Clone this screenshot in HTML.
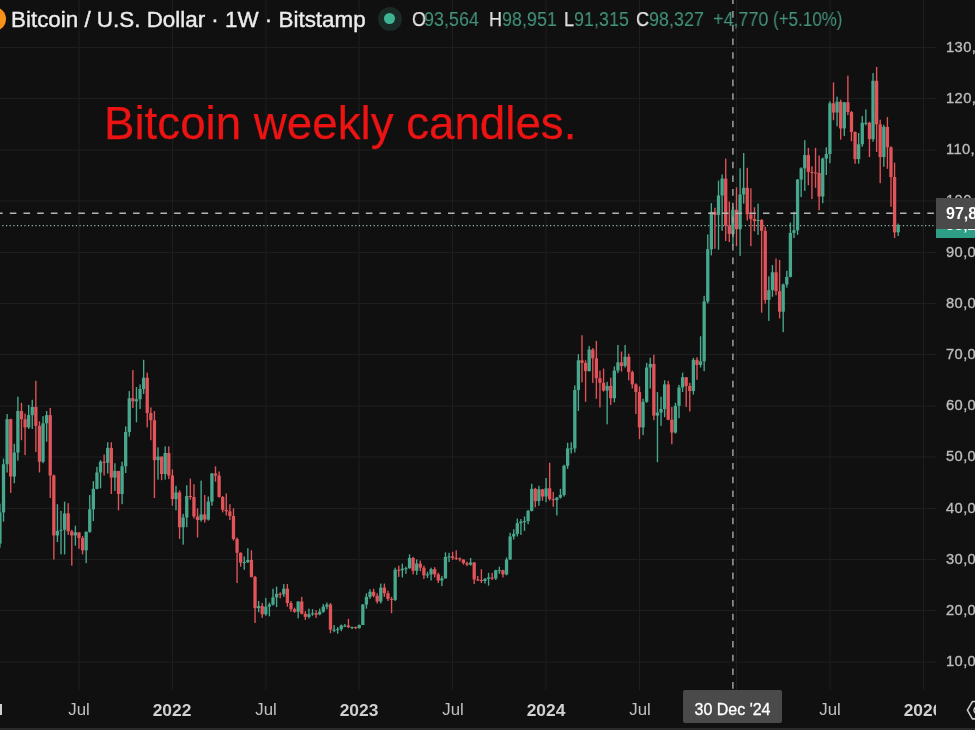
<!DOCTYPE html>
<html><head><meta charset="utf-8"><style>
*{margin:0;padding:0;box-sizing:border-box}
.pl,.tl,.oh,#title,#note,#ctl,#chl,#lpl{will-change:transform}
html,body{width:975px;height:730px;overflow:hidden;background:#101010;font-family:"Liberation Sans",sans-serif}
#root{position:relative;width:975px;height:730px;overflow:hidden}
.pl{position:absolute;left:946px;font-size:14.7px;letter-spacing:0.4px;color:#bcbcbc;line-height:18px;white-space:nowrap;-webkit-text-stroke:0.35px #bcbcbc}
#taxis{position:absolute;left:0;top:690px;width:936px;height:40px;overflow:hidden}
.tl{position:absolute;top:11px;width:80px;text-align:center;font-size:16.8px;color:#c0c0c0;line-height:18px}
.tl.b{font-weight:bold;color:#d0d0d0;font-size:17.4px}
#title{position:absolute;left:11px;top:7.5px;font-size:22.4px;color:#ececec;-webkit-text-stroke:0.4px #ececec;line-height:24px;white-space:nowrap}
#logo{position:absolute;left:-17.7px;top:7px;width:24px;height:24px;border-radius:50%;background:#f7931a}
#dot{position:absolute;left:377.5px;top:6.5px;width:24px;height:24px;border-radius:50%;background:#1a2b27}
#dot i{position:absolute;left:6.5px;top:6.5px;width:11px;height:11px;border-radius:50%;background:#3fb495}
.oh{position:absolute;top:8.1px;font-size:20px;line-height:22px;white-space:nowrap;transform:scaleX(0.898);transform-origin:0 0}
.oh.w{color:#e6e6e6;-webkit-text-stroke:0.25px #e6e6e6} .oh.g{color:#43947d}
#note{position:absolute;left:103.5px;top:98.5px;font-size:45.7px;color:#ec1313;-webkit-text-stroke:0.25px #ec1313;line-height:50px;white-space:nowrap}
#chl{position:absolute;left:936px;top:198px;width:60px;height:31px;background:#4a4a4a;color:#fff;font-weight:bold;font-size:16px;line-height:31px;padding-left:10px}
#lpl{position:absolute;left:936px;top:214px;width:60px;height:23.5px;background:#2f9e86;color:#fff;font-size:15.5px;line-height:18px;padding-top:1.5px;padding-left:10px;font-weight:bold}
#ctl{position:absolute;left:682.5px;top:690px;width:99px;height:33px;background:#4a4a4a;border-radius:2px;color:#fff;font-size:16px;line-height:33px;padding-top:3px;text-align:center;-webkit-text-stroke:0.3px #fff}
#bot{position:absolute;left:0;top:728px;width:975px;height:2px;background:#2a2a2a}
</style></head><body><div id="root">
<svg width="975" height="730" viewBox="0 0 975 730" style="position:absolute;left:0;top:0"><line x1="0" y1="662.0" x2="936" y2="662.0" stroke="#1e1e1e" stroke-width="1"/><line x1="0" y1="610.5" x2="936" y2="610.5" stroke="#1e1e1e" stroke-width="1"/><line x1="0" y1="559.5" x2="936" y2="559.5" stroke="#1e1e1e" stroke-width="1"/><line x1="0" y1="508.5" x2="936" y2="508.5" stroke="#1e1e1e" stroke-width="1"/><line x1="0" y1="457.0" x2="936" y2="457.0" stroke="#1e1e1e" stroke-width="1"/><line x1="0" y1="406.0" x2="936" y2="406.0" stroke="#1e1e1e" stroke-width="1"/><line x1="0" y1="354.5" x2="936" y2="354.5" stroke="#1e1e1e" stroke-width="1"/><line x1="0" y1="303.5" x2="936" y2="303.5" stroke="#1e1e1e" stroke-width="1"/><line x1="0" y1="252.5" x2="936" y2="252.5" stroke="#1e1e1e" stroke-width="1"/><line x1="0" y1="201.0" x2="936" y2="201.0" stroke="#1e1e1e" stroke-width="1"/><line x1="0" y1="150.0" x2="936" y2="150.0" stroke="#1e1e1e" stroke-width="1"/><line x1="0" y1="98.5" x2="936" y2="98.5" stroke="#1e1e1e" stroke-width="1"/><line x1="0" y1="47.5" x2="936" y2="47.5" stroke="#1e1e1e" stroke-width="1"/><line x1="79.0" y1="0" x2="79.0" y2="690" stroke="#1e1e1e" stroke-width="1"/><line x1="172.5" y1="0" x2="172.5" y2="690" stroke="#1e1e1e" stroke-width="1"/><line x1="266.0" y1="0" x2="266.0" y2="690" stroke="#1e1e1e" stroke-width="1"/><line x1="359.0" y1="0" x2="359.0" y2="690" stroke="#1e1e1e" stroke-width="1"/><line x1="452.5" y1="0" x2="452.5" y2="690" stroke="#1e1e1e" stroke-width="1"/><line x1="546.0" y1="0" x2="546.0" y2="690" stroke="#1e1e1e" stroke-width="1"/><line x1="639.5" y1="0" x2="639.5" y2="690" stroke="#1e1e1e" stroke-width="1"/><line x1="736.5" y1="0" x2="736.5" y2="690" stroke="#1e1e1e" stroke-width="1"/><line x1="830.0" y1="0" x2="830.0" y2="690" stroke="#1e1e1e" stroke-width="1"/><line x1="923.5" y1="0" x2="923.5" y2="690" stroke="#1e1e1e" stroke-width="1"/><line x1="0" y1="225.7" x2="936" y2="225.7" stroke="#8fbfb0" stroke-width="1.2" stroke-dasharray="1.2 2.476" stroke-dashoffset="1.376"/><rect x="-0.75" y="503.69" width="1.35" height="44.03" fill="#48a88e"/><rect x="-1.72" y="512.40" width="3.3" height="31.23" fill="#48a88e"/><rect x="2.85" y="458.64" width="1.35" height="62.98" fill="#48a88e"/><rect x="1.87" y="464.27" width="3.3" height="48.13" fill="#48a88e"/><rect x="6.44" y="414.09" width="1.35" height="58.37" fill="#48a88e"/><rect x="5.46" y="419.21" width="3.3" height="45.06" fill="#48a88e"/><rect x="10.03" y="418.70" width="1.35" height="74.24" fill="#e2545a"/><rect x="9.06" y="419.21" width="3.3" height="57.34" fill="#e2545a"/><rect x="13.62" y="443.79" width="1.35" height="39.42" fill="#48a88e"/><rect x="12.65" y="452.49" width="3.3" height="24.06" fill="#48a88e"/><rect x="17.22" y="396.68" width="1.35" height="64.00" fill="#48a88e"/><rect x="16.24" y="411.02" width="3.3" height="41.47" fill="#48a88e"/><rect x="20.81" y="402.83" width="1.35" height="37.38" fill="#e2545a"/><rect x="19.84" y="411.02" width="3.3" height="8.19" fill="#e2545a"/><rect x="24.40" y="413.58" width="1.35" height="41.47" fill="#e2545a"/><rect x="23.43" y="419.21" width="3.3" height="8.19" fill="#e2545a"/><rect x="28.00" y="404.88" width="1.35" height="24.06" fill="#48a88e"/><rect x="27.02" y="415.12" width="3.3" height="12.29" fill="#48a88e"/><rect x="31.59" y="399.76" width="1.35" height="29.18" fill="#48a88e"/><rect x="30.61" y="406.92" width="3.3" height="8.19" fill="#48a88e"/><rect x="35.18" y="380.81" width="1.35" height="71.17" fill="#e2545a"/><rect x="34.21" y="406.92" width="3.3" height="18.94" fill="#e2545a"/><rect x="38.78" y="421.26" width="1.35" height="51.20" fill="#e2545a"/><rect x="37.80" y="425.87" width="3.3" height="35.84" fill="#e2545a"/><rect x="42.37" y="416.14" width="1.35" height="47.10" fill="#48a88e"/><rect x="41.39" y="423.31" width="3.3" height="38.40" fill="#48a88e"/><rect x="45.96" y="411.02" width="1.35" height="30.72" fill="#48a88e"/><rect x="44.99" y="415.12" width="3.3" height="8.19" fill="#48a88e"/><rect x="49.56" y="407.95" width="1.35" height="90.11" fill="#e2545a"/><rect x="48.58" y="415.12" width="3.3" height="60.42" fill="#e2545a"/><rect x="53.15" y="474.51" width="1.35" height="84.99" fill="#e2545a"/><rect x="52.17" y="475.53" width="3.3" height="59.90" fill="#e2545a"/><rect x="56.74" y="504.20" width="1.35" height="37.89" fill="#48a88e"/><rect x="55.77" y="530.83" width="3.3" height="4.61" fill="#48a88e"/><rect x="60.33" y="510.86" width="1.35" height="43.52" fill="#48a88e"/><rect x="59.36" y="529.80" width="3.3" height="1.02" fill="#48a88e"/><rect x="63.93" y="501.64" width="1.35" height="52.74" fill="#48a88e"/><rect x="62.95" y="513.42" width="3.3" height="16.38" fill="#48a88e"/><rect x="67.52" y="503.18" width="1.35" height="31.74" fill="#e2545a"/><rect x="66.54" y="513.42" width="3.3" height="17.92" fill="#e2545a"/><rect x="71.11" y="529.80" width="1.35" height="35.84" fill="#e2545a"/><rect x="70.14" y="531.34" width="3.3" height="4.10" fill="#e2545a"/><rect x="74.71" y="525.71" width="1.35" height="19.97" fill="#48a88e"/><rect x="73.73" y="532.36" width="3.3" height="3.07" fill="#48a88e"/><rect x="78.30" y="532.36" width="1.35" height="16.38" fill="#e2545a"/><rect x="77.32" y="532.36" width="3.3" height="5.63" fill="#e2545a"/><rect x="81.89" y="535.95" width="1.35" height="18.43" fill="#e2545a"/><rect x="80.92" y="538.00" width="3.3" height="12.29" fill="#e2545a"/><rect x="85.48" y="531.34" width="1.35" height="31.74" fill="#48a88e"/><rect x="84.51" y="531.85" width="3.3" height="18.43" fill="#48a88e"/><rect x="89.08" y="494.99" width="1.35" height="37.89" fill="#48a88e"/><rect x="88.10" y="509.32" width="3.3" height="22.53" fill="#48a88e"/><rect x="92.67" y="481.16" width="1.35" height="39.94" fill="#48a88e"/><rect x="91.70" y="488.84" width="3.3" height="20.48" fill="#48a88e"/><rect x="96.26" y="466.83" width="1.35" height="22.53" fill="#48a88e"/><rect x="95.29" y="472.46" width="3.3" height="16.38" fill="#48a88e"/><rect x="99.86" y="460.17" width="1.35" height="28.16" fill="#48a88e"/><rect x="98.88" y="461.71" width="3.3" height="10.75" fill="#48a88e"/><rect x="103.45" y="454.54" width="1.35" height="20.99" fill="#e2545a"/><rect x="102.47" y="461.71" width="3.3" height="1.02" fill="#e2545a"/><rect x="107.04" y="442.25" width="1.35" height="31.23" fill="#48a88e"/><rect x="106.07" y="447.88" width="3.3" height="14.85" fill="#48a88e"/><rect x="110.64" y="442.25" width="1.35" height="51.71" fill="#e2545a"/><rect x="109.66" y="447.88" width="3.3" height="29.70" fill="#e2545a"/><rect x="114.23" y="463.24" width="1.35" height="27.65" fill="#48a88e"/><rect x="113.25" y="470.92" width="3.3" height="6.66" fill="#48a88e"/><rect x="117.82" y="470.92" width="1.35" height="39.42" fill="#e2545a"/><rect x="116.85" y="470.92" width="3.3" height="23.04" fill="#e2545a"/><rect x="121.42" y="461.71" width="1.35" height="42.50" fill="#48a88e"/><rect x="120.44" y="466.32" width="3.3" height="27.65" fill="#48a88e"/><rect x="125.01" y="426.38" width="1.35" height="46.59" fill="#48a88e"/><rect x="124.03" y="432.01" width="3.3" height="34.30" fill="#48a88e"/><rect x="128.60" y="391.05" width="1.35" height="45.57" fill="#48a88e"/><rect x="127.63" y="398.22" width="3.3" height="33.79" fill="#48a88e"/><rect x="132.19" y="370.06" width="1.35" height="37.89" fill="#e2545a"/><rect x="131.22" y="398.22" width="3.3" height="3.07" fill="#e2545a"/><rect x="135.79" y="386.96" width="1.35" height="35.33" fill="#48a88e"/><rect x="134.81" y="399.24" width="3.3" height="2.05" fill="#48a88e"/><rect x="139.38" y="384.40" width="1.35" height="24.58" fill="#48a88e"/><rect x="138.40" y="389.00" width="3.3" height="10.24" fill="#48a88e"/><rect x="142.97" y="359.82" width="1.35" height="34.30" fill="#48a88e"/><rect x="142.00" y="377.74" width="3.3" height="11.26" fill="#48a88e"/><rect x="146.57" y="372.62" width="1.35" height="54.78" fill="#e2545a"/><rect x="145.59" y="377.74" width="3.3" height="35.33" fill="#e2545a"/><rect x="150.16" y="407.44" width="1.35" height="32.77" fill="#e2545a"/><rect x="149.18" y="413.07" width="3.3" height="7.17" fill="#e2545a"/><rect x="153.75" y="411.02" width="1.35" height="87.04" fill="#e2545a"/><rect x="152.78" y="420.24" width="3.3" height="39.94" fill="#e2545a"/><rect x="157.34" y="447.37" width="1.35" height="32.26" fill="#48a88e"/><rect x="156.37" y="456.59" width="3.3" height="3.58" fill="#48a88e"/><rect x="160.94" y="456.59" width="1.35" height="23.55" fill="#e2545a"/><rect x="159.96" y="456.59" width="3.3" height="17.41" fill="#e2545a"/><rect x="164.53" y="446.35" width="1.35" height="33.28" fill="#48a88e"/><rect x="163.56" y="453.00" width="3.3" height="20.99" fill="#48a88e"/><rect x="168.12" y="446.35" width="1.35" height="32.77" fill="#e2545a"/><rect x="167.15" y="453.00" width="3.3" height="22.53" fill="#e2545a"/><rect x="171.72" y="469.39" width="1.35" height="36.35" fill="#e2545a"/><rect x="170.74" y="475.53" width="3.3" height="23.55" fill="#e2545a"/><rect x="175.31" y="485.77" width="1.35" height="24.58" fill="#48a88e"/><rect x="174.34" y="492.43" width="3.3" height="6.66" fill="#48a88e"/><rect x="178.90" y="490.38" width="1.35" height="48.64" fill="#e2545a"/><rect x="177.93" y="492.43" width="3.3" height="34.82" fill="#e2545a"/><rect x="182.50" y="513.93" width="1.35" height="30.72" fill="#48a88e"/><rect x="181.52" y="517.52" width="3.3" height="9.73" fill="#48a88e"/><rect x="186.09" y="485.26" width="1.35" height="41.98" fill="#48a88e"/><rect x="185.11" y="496.01" width="3.3" height="21.50" fill="#48a88e"/><rect x="189.68" y="478.60" width="1.35" height="20.99" fill="#e2545a"/><rect x="188.71" y="496.01" width="3.3" height="1.02" fill="#e2545a"/><rect x="193.27" y="484.24" width="1.35" height="34.30" fill="#e2545a"/><rect x="192.30" y="497.04" width="3.3" height="19.46" fill="#e2545a"/><rect x="196.87" y="508.30" width="1.35" height="29.18" fill="#e2545a"/><rect x="195.89" y="516.49" width="3.3" height="3.58" fill="#e2545a"/><rect x="200.46" y="480.65" width="1.35" height="40.96" fill="#48a88e"/><rect x="199.49" y="514.44" width="3.3" height="5.63" fill="#48a88e"/><rect x="204.05" y="494.99" width="1.35" height="27.65" fill="#e2545a"/><rect x="203.08" y="514.44" width="3.3" height="5.12" fill="#e2545a"/><rect x="207.65" y="496.52" width="1.35" height="24.06" fill="#48a88e"/><rect x="206.67" y="501.64" width="3.3" height="17.92" fill="#48a88e"/><rect x="211.24" y="472.97" width="1.35" height="32.77" fill="#48a88e"/><rect x="210.26" y="473.48" width="3.3" height="28.16" fill="#48a88e"/><rect x="214.83" y="466.32" width="1.35" height="15.36" fill="#e2545a"/><rect x="213.86" y="473.48" width="3.3" height="2.05" fill="#e2545a"/><rect x="218.43" y="471.44" width="1.35" height="26.11" fill="#e2545a"/><rect x="217.45" y="475.53" width="3.3" height="21.50" fill="#e2545a"/><rect x="222.02" y="496.01" width="1.35" height="16.38" fill="#e2545a"/><rect x="221.04" y="497.04" width="3.3" height="12.80" fill="#e2545a"/><rect x="225.61" y="493.45" width="1.35" height="22.02" fill="#e2545a"/><rect x="224.64" y="509.84" width="3.3" height="1.54" fill="#e2545a"/><rect x="229.20" y="504.20" width="1.35" height="15.87" fill="#e2545a"/><rect x="228.23" y="511.37" width="3.3" height="4.61" fill="#e2545a"/><rect x="232.80" y="508.30" width="1.35" height="32.26" fill="#e2545a"/><rect x="231.82" y="515.98" width="3.3" height="23.04" fill="#e2545a"/><rect x="236.39" y="537.48" width="1.35" height="45.57" fill="#e2545a"/><rect x="235.42" y="539.02" width="3.3" height="13.82" fill="#e2545a"/><rect x="239.98" y="552.33" width="1.35" height="14.34" fill="#e2545a"/><rect x="239.01" y="552.84" width="3.3" height="9.73" fill="#e2545a"/><rect x="243.58" y="556.43" width="1.35" height="13.31" fill="#48a88e"/><rect x="242.60" y="562.06" width="3.3" height="1.00" fill="#48a88e"/><rect x="247.17" y="548.24" width="1.35" height="14.85" fill="#48a88e"/><rect x="246.19" y="560.01" width="3.3" height="2.05" fill="#48a88e"/><rect x="250.76" y="550.28" width="1.35" height="27.14" fill="#e2545a"/><rect x="249.79" y="560.01" width="3.3" height="16.90" fill="#e2545a"/><rect x="254.36" y="575.88" width="1.35" height="47.10" fill="#e2545a"/><rect x="253.38" y="576.91" width="3.3" height="31.23" fill="#e2545a"/><rect x="257.95" y="600.97" width="1.35" height="11.26" fill="#48a88e"/><rect x="256.97" y="606.09" width="3.3" height="2.05" fill="#48a88e"/><rect x="261.54" y="603.02" width="1.35" height="14.85" fill="#e2545a"/><rect x="260.57" y="606.09" width="3.3" height="8.19" fill="#e2545a"/><rect x="265.13" y="597.90" width="1.35" height="17.92" fill="#48a88e"/><rect x="264.16" y="606.60" width="3.3" height="7.68" fill="#48a88e"/><rect x="268.73" y="602.51" width="1.35" height="13.82" fill="#48a88e"/><rect x="267.75" y="604.56" width="3.3" height="2.05" fill="#48a88e"/><rect x="272.32" y="588.68" width="1.35" height="16.90" fill="#48a88e"/><rect x="271.35" y="597.39" width="3.3" height="7.17" fill="#48a88e"/><rect x="275.91" y="586.64" width="1.35" height="20.48" fill="#48a88e"/><rect x="274.94" y="593.80" width="3.3" height="3.58" fill="#48a88e"/><rect x="279.51" y="592.27" width="1.35" height="6.14" fill="#e2545a"/><rect x="278.53" y="593.80" width="3.3" height="1.00" fill="#e2545a"/><rect x="283.10" y="584.08" width="1.35" height="12.80" fill="#48a88e"/><rect x="282.12" y="588.68" width="3.3" height="5.63" fill="#48a88e"/><rect x="286.69" y="584.08" width="1.35" height="22.53" fill="#e2545a"/><rect x="285.72" y="588.68" width="3.3" height="14.34" fill="#e2545a"/><rect x="290.29" y="600.97" width="1.35" height="10.75" fill="#e2545a"/><rect x="289.31" y="603.02" width="3.3" height="6.14" fill="#e2545a"/><rect x="293.88" y="607.63" width="1.35" height="5.12" fill="#e2545a"/><rect x="292.90" y="609.16" width="3.3" height="2.56" fill="#e2545a"/><rect x="297.47" y="601.48" width="1.35" height="16.90" fill="#48a88e"/><rect x="296.50" y="601.48" width="3.3" height="10.24" fill="#48a88e"/><rect x="301.06" y="596.88" width="1.35" height="17.41" fill="#e2545a"/><rect x="300.09" y="601.48" width="3.3" height="12.29" fill="#e2545a"/><rect x="304.66" y="611.21" width="1.35" height="8.70" fill="#e2545a"/><rect x="303.68" y="613.77" width="3.3" height="3.07" fill="#e2545a"/><rect x="308.25" y="608.65" width="1.35" height="9.73" fill="#48a88e"/><rect x="307.28" y="614.28" width="3.3" height="2.56" fill="#48a88e"/><rect x="311.84" y="609.16" width="1.35" height="6.66" fill="#48a88e"/><rect x="310.87" y="613.26" width="3.3" height="1.02" fill="#48a88e"/><rect x="315.44" y="610.19" width="1.35" height="7.68" fill="#e2545a"/><rect x="314.46" y="613.26" width="3.3" height="1.54" fill="#e2545a"/><rect x="319.03" y="608.65" width="1.35" height="6.66" fill="#48a88e"/><rect x="318.06" y="611.72" width="3.3" height="2.56" fill="#48a88e"/><rect x="322.62" y="604.04" width="1.35" height="8.70" fill="#48a88e"/><rect x="321.65" y="606.60" width="3.3" height="5.12" fill="#48a88e"/><rect x="326.22" y="602.51" width="1.35" height="6.66" fill="#48a88e"/><rect x="325.24" y="604.56" width="3.3" height="2.05" fill="#48a88e"/><rect x="329.81" y="603.02" width="1.35" height="30.21" fill="#e2545a"/><rect x="328.83" y="604.56" width="3.3" height="25.09" fill="#e2545a"/><rect x="333.40" y="625.04" width="1.35" height="7.17" fill="#48a88e"/><rect x="332.43" y="629.64" width="3.3" height="1.00" fill="#48a88e"/><rect x="336.99" y="627.08" width="1.35" height="6.66" fill="#48a88e"/><rect x="336.02" y="629.13" width="3.3" height="1.00" fill="#48a88e"/><rect x="340.59" y="624.52" width="1.35" height="6.66" fill="#48a88e"/><rect x="339.61" y="625.55" width="3.3" height="3.58" fill="#48a88e"/><rect x="344.18" y="624.01" width="1.35" height="3.07" fill="#48a88e"/><rect x="343.21" y="625.55" width="3.3" height="1.00" fill="#48a88e"/><rect x="347.77" y="618.89" width="1.35" height="9.22" fill="#e2545a"/><rect x="346.80" y="625.55" width="3.3" height="1.54" fill="#e2545a"/><rect x="351.37" y="626.57" width="1.35" height="2.56" fill="#48a88e"/><rect x="350.39" y="627.08" width="3.3" height="1.00" fill="#48a88e"/><rect x="354.96" y="626.57" width="1.35" height="2.56" fill="#e2545a"/><rect x="353.99" y="627.08" width="3.3" height="1.02" fill="#e2545a"/><rect x="358.55" y="624.52" width="1.35" height="4.10" fill="#48a88e"/><rect x="357.58" y="625.04" width="3.3" height="3.07" fill="#48a88e"/><rect x="362.15" y="604.04" width="1.35" height="20.99" fill="#48a88e"/><rect x="361.17" y="604.56" width="3.3" height="20.48" fill="#48a88e"/><rect x="365.74" y="593.29" width="1.35" height="15.36" fill="#48a88e"/><rect x="364.76" y="596.88" width="3.3" height="7.68" fill="#48a88e"/><rect x="369.33" y="589.20" width="1.35" height="9.73" fill="#48a88e"/><rect x="368.36" y="591.76" width="3.3" height="5.12" fill="#48a88e"/><rect x="372.92" y="588.68" width="1.35" height="8.70" fill="#e2545a"/><rect x="371.95" y="591.76" width="3.3" height="4.10" fill="#e2545a"/><rect x="376.52" y="593.29" width="1.35" height="10.24" fill="#e2545a"/><rect x="375.54" y="595.85" width="3.3" height="5.63" fill="#e2545a"/><rect x="380.11" y="583.56" width="1.35" height="19.97" fill="#48a88e"/><rect x="379.14" y="587.66" width="3.3" height="13.82" fill="#48a88e"/><rect x="383.70" y="583.56" width="1.35" height="13.31" fill="#e2545a"/><rect x="382.73" y="587.66" width="3.3" height="5.63" fill="#e2545a"/><rect x="387.30" y="590.73" width="1.35" height="10.24" fill="#e2545a"/><rect x="386.32" y="593.29" width="3.3" height="5.63" fill="#e2545a"/><rect x="390.89" y="596.88" width="1.35" height="16.38" fill="#e2545a"/><rect x="389.92" y="598.92" width="3.3" height="1.02" fill="#e2545a"/><rect x="394.48" y="567.69" width="1.35" height="33.28" fill="#48a88e"/><rect x="393.51" y="569.74" width="3.3" height="30.21" fill="#48a88e"/><rect x="398.08" y="565.64" width="1.35" height="11.26" fill="#e2545a"/><rect x="397.10" y="569.74" width="3.3" height="1.00" fill="#e2545a"/><rect x="401.67" y="563.60" width="1.35" height="13.82" fill="#48a88e"/><rect x="400.69" y="568.72" width="3.3" height="1.54" fill="#48a88e"/><rect x="405.26" y="566.67" width="1.35" height="7.17" fill="#48a88e"/><rect x="404.29" y="568.20" width="3.3" height="1.00" fill="#48a88e"/><rect x="408.85" y="554.38" width="1.35" height="14.34" fill="#48a88e"/><rect x="407.88" y="557.96" width="3.3" height="10.24" fill="#48a88e"/><rect x="412.45" y="556.94" width="1.35" height="17.41" fill="#e2545a"/><rect x="411.47" y="557.96" width="3.3" height="12.80" fill="#e2545a"/><rect x="416.04" y="559.50" width="1.35" height="15.36" fill="#48a88e"/><rect x="415.07" y="563.60" width="3.3" height="7.17" fill="#48a88e"/><rect x="419.63" y="560.52" width="1.35" height="10.75" fill="#e2545a"/><rect x="418.66" y="563.60" width="3.3" height="4.10" fill="#e2545a"/><rect x="423.23" y="565.64" width="1.35" height="13.31" fill="#e2545a"/><rect x="422.25" y="567.69" width="3.3" height="7.68" fill="#e2545a"/><rect x="426.82" y="571.79" width="1.35" height="6.14" fill="#48a88e"/><rect x="425.85" y="574.35" width="3.3" height="1.02" fill="#48a88e"/><rect x="430.41" y="567.69" width="1.35" height="12.80" fill="#48a88e"/><rect x="429.44" y="569.23" width="3.3" height="5.12" fill="#48a88e"/><rect x="434.01" y="567.18" width="1.35" height="10.24" fill="#e2545a"/><rect x="433.03" y="569.23" width="3.3" height="5.12" fill="#e2545a"/><rect x="437.60" y="572.81" width="1.35" height="10.24" fill="#e2545a"/><rect x="436.62" y="574.35" width="3.3" height="6.14" fill="#e2545a"/><rect x="441.19" y="575.88" width="1.35" height="10.24" fill="#48a88e"/><rect x="440.22" y="578.44" width="3.3" height="2.05" fill="#48a88e"/><rect x="444.78" y="552.33" width="1.35" height="26.11" fill="#48a88e"/><rect x="443.81" y="556.94" width="3.3" height="21.50" fill="#48a88e"/><rect x="448.38" y="552.84" width="1.35" height="9.22" fill="#48a88e"/><rect x="447.40" y="556.43" width="3.3" height="1.00" fill="#48a88e"/><rect x="451.97" y="551.82" width="1.35" height="8.19" fill="#e2545a"/><rect x="451.00" y="556.43" width="3.3" height="1.54" fill="#e2545a"/><rect x="455.56" y="550.28" width="1.35" height="9.73" fill="#e2545a"/><rect x="454.59" y="557.96" width="3.3" height="1.00" fill="#e2545a"/><rect x="459.16" y="557.45" width="1.35" height="4.10" fill="#e2545a"/><rect x="458.18" y="558.48" width="3.3" height="1.02" fill="#e2545a"/><rect x="462.75" y="559.50" width="1.35" height="5.12" fill="#e2545a"/><rect x="461.77" y="559.50" width="3.3" height="3.58" fill="#e2545a"/><rect x="466.34" y="561.55" width="1.35" height="4.61" fill="#e2545a"/><rect x="465.37" y="563.08" width="3.3" height="1.54" fill="#e2545a"/><rect x="469.94" y="557.96" width="1.35" height="7.68" fill="#48a88e"/><rect x="468.96" y="562.57" width="3.3" height="2.05" fill="#48a88e"/><rect x="473.53" y="562.06" width="1.35" height="22.02" fill="#e2545a"/><rect x="472.55" y="562.57" width="3.3" height="16.90" fill="#e2545a"/><rect x="477.12" y="575.88" width="1.35" height="5.12" fill="#e2545a"/><rect x="476.15" y="579.47" width="3.3" height="1.00" fill="#e2545a"/><rect x="480.71" y="569.23" width="1.35" height="13.82" fill="#e2545a"/><rect x="479.74" y="579.98" width="3.3" height="1.02" fill="#e2545a"/><rect x="484.31" y="577.93" width="1.35" height="5.63" fill="#48a88e"/><rect x="483.33" y="578.96" width="3.3" height="2.05" fill="#48a88e"/><rect x="487.90" y="572.81" width="1.35" height="12.80" fill="#48a88e"/><rect x="486.93" y="577.42" width="3.3" height="1.54" fill="#48a88e"/><rect x="491.49" y="572.81" width="1.35" height="7.17" fill="#e2545a"/><rect x="490.52" y="577.42" width="3.3" height="1.02" fill="#e2545a"/><rect x="495.09" y="569.74" width="1.35" height="10.24" fill="#48a88e"/><rect x="494.11" y="570.25" width="3.3" height="8.19" fill="#48a88e"/><rect x="498.68" y="566.67" width="1.35" height="7.17" fill="#48a88e"/><rect x="497.71" y="570.25" width="3.3" height="1.00" fill="#48a88e"/><rect x="502.27" y="569.74" width="1.35" height="7.68" fill="#e2545a"/><rect x="501.30" y="570.25" width="3.3" height="4.10" fill="#e2545a"/><rect x="505.87" y="557.45" width="1.35" height="17.92" fill="#48a88e"/><rect x="504.89" y="559.50" width="3.3" height="14.85" fill="#48a88e"/><rect x="509.46" y="532.88" width="1.35" height="27.14" fill="#48a88e"/><rect x="508.48" y="536.46" width="3.3" height="23.04" fill="#48a88e"/><rect x="513.05" y="529.29" width="1.35" height="10.24" fill="#48a88e"/><rect x="512.08" y="533.90" width="3.3" height="2.56" fill="#48a88e"/><rect x="516.64" y="518.54" width="1.35" height="17.92" fill="#48a88e"/><rect x="515.67" y="523.15" width="3.3" height="10.75" fill="#48a88e"/><rect x="520.24" y="519.05" width="1.35" height="15.87" fill="#48a88e"/><rect x="519.26" y="521.61" width="3.3" height="1.54" fill="#48a88e"/><rect x="523.83" y="516.49" width="1.35" height="14.34" fill="#48a88e"/><rect x="522.86" y="521.10" width="3.3" height="1.00" fill="#48a88e"/><rect x="527.42" y="509.84" width="1.35" height="14.34" fill="#48a88e"/><rect x="526.45" y="510.86" width="3.3" height="10.24" fill="#48a88e"/><rect x="531.02" y="483.72" width="1.35" height="27.65" fill="#48a88e"/><rect x="530.04" y="488.84" width="3.3" height="22.02" fill="#48a88e"/><rect x="534.61" y="487.82" width="1.35" height="19.46" fill="#e2545a"/><rect x="533.63" y="488.84" width="3.3" height="12.29" fill="#e2545a"/><rect x="538.20" y="485.77" width="1.35" height="19.97" fill="#48a88e"/><rect x="537.23" y="489.36" width="3.3" height="11.78" fill="#48a88e"/><rect x="541.80" y="488.84" width="1.35" height="11.78" fill="#e2545a"/><rect x="540.82" y="489.36" width="3.3" height="7.17" fill="#e2545a"/><rect x="545.39" y="478.09" width="1.35" height="24.06" fill="#48a88e"/><rect x="544.41" y="488.33" width="3.3" height="8.19" fill="#48a88e"/><rect x="548.98" y="462.73" width="1.35" height="37.89" fill="#e2545a"/><rect x="548.01" y="488.33" width="3.3" height="10.75" fill="#e2545a"/><rect x="552.58" y="491.92" width="1.35" height="14.85" fill="#e2545a"/><rect x="551.60" y="499.08" width="3.3" height="1.02" fill="#e2545a"/><rect x="556.17" y="497.04" width="1.35" height="18.43" fill="#48a88e"/><rect x="555.19" y="497.55" width="3.3" height="2.56" fill="#48a88e"/><rect x="559.76" y="488.84" width="1.35" height="9.73" fill="#48a88e"/><rect x="558.79" y="494.99" width="3.3" height="2.56" fill="#48a88e"/><rect x="563.35" y="464.78" width="1.35" height="31.74" fill="#48a88e"/><rect x="562.38" y="465.80" width="3.3" height="29.18" fill="#48a88e"/><rect x="566.95" y="442.76" width="1.35" height="26.11" fill="#48a88e"/><rect x="565.97" y="448.40" width="3.3" height="17.41" fill="#48a88e"/><rect x="570.54" y="442.25" width="1.35" height="11.26" fill="#48a88e"/><rect x="569.56" y="448.40" width="3.3" height="1.00" fill="#48a88e"/><rect x="574.13" y="385.42" width="1.35" height="67.07" fill="#48a88e"/><rect x="573.16" y="390.03" width="3.3" height="58.37" fill="#48a88e"/><rect x="577.73" y="354.19" width="1.35" height="56.83" fill="#48a88e"/><rect x="576.75" y="360.33" width="3.3" height="29.70" fill="#48a88e"/><rect x="581.32" y="335.24" width="1.35" height="47.10" fill="#e2545a"/><rect x="580.34" y="360.33" width="3.3" height="2.56" fill="#e2545a"/><rect x="584.91" y="360.33" width="1.35" height="41.47" fill="#e2545a"/><rect x="583.94" y="362.89" width="3.3" height="8.19" fill="#e2545a"/><rect x="588.50" y="346.00" width="1.35" height="25.60" fill="#48a88e"/><rect x="587.53" y="349.58" width="3.3" height="21.50" fill="#48a88e"/><rect x="592.10" y="348.04" width="1.35" height="34.82" fill="#e2545a"/><rect x="591.12" y="349.58" width="3.3" height="8.70" fill="#e2545a"/><rect x="595.69" y="340.88" width="1.35" height="57.86" fill="#e2545a"/><rect x="594.72" y="358.28" width="3.3" height="19.97" fill="#e2545a"/><rect x="599.28" y="370.57" width="1.35" height="36.86" fill="#e2545a"/><rect x="598.31" y="378.25" width="3.3" height="4.61" fill="#e2545a"/><rect x="602.88" y="368.52" width="1.35" height="23.04" fill="#e2545a"/><rect x="601.90" y="382.86" width="3.3" height="7.68" fill="#e2545a"/><rect x="606.47" y="381.84" width="1.35" height="42.50" fill="#48a88e"/><rect x="605.50" y="385.93" width="3.3" height="4.61" fill="#48a88e"/><rect x="610.06" y="377.74" width="1.35" height="27.14" fill="#e2545a"/><rect x="609.09" y="385.93" width="3.3" height="12.29" fill="#e2545a"/><rect x="613.66" y="366.48" width="1.35" height="35.84" fill="#48a88e"/><rect x="612.68" y="370.57" width="3.3" height="27.65" fill="#48a88e"/><rect x="617.25" y="344.97" width="1.35" height="28.16" fill="#48a88e"/><rect x="616.27" y="362.38" width="3.3" height="8.19" fill="#48a88e"/><rect x="620.84" y="351.63" width="1.35" height="19.97" fill="#e2545a"/><rect x="619.87" y="362.38" width="3.3" height="3.58" fill="#e2545a"/><rect x="624.44" y="344.97" width="1.35" height="22.53" fill="#48a88e"/><rect x="623.46" y="356.75" width="3.3" height="9.22" fill="#48a88e"/><rect x="628.03" y="353.68" width="1.35" height="26.62" fill="#e2545a"/><rect x="627.05" y="356.75" width="3.3" height="15.36" fill="#e2545a"/><rect x="631.62" y="370.57" width="1.35" height="17.92" fill="#e2545a"/><rect x="630.65" y="372.11" width="3.3" height="12.29" fill="#e2545a"/><rect x="635.21" y="383.37" width="1.35" height="30.72" fill="#e2545a"/><rect x="634.24" y="384.40" width="3.3" height="7.68" fill="#e2545a"/><rect x="638.81" y="386.44" width="1.35" height="52.74" fill="#e2545a"/><rect x="637.83" y="392.08" width="3.3" height="35.33" fill="#e2545a"/><rect x="642.40" y="398.73" width="1.35" height="36.35" fill="#48a88e"/><rect x="641.42" y="401.80" width="3.3" height="25.60" fill="#48a88e"/><rect x="645.99" y="362.89" width="1.35" height="39.94" fill="#48a88e"/><rect x="645.02" y="367.50" width="3.3" height="34.30" fill="#48a88e"/><rect x="649.59" y="357.77" width="1.35" height="30.72" fill="#48a88e"/><rect x="648.61" y="363.92" width="3.3" height="3.58" fill="#48a88e"/><rect x="653.18" y="354.70" width="1.35" height="65.54" fill="#e2545a"/><rect x="652.20" y="363.92" width="3.3" height="51.71" fill="#e2545a"/><rect x="656.77" y="392.08" width="1.35" height="70.14" fill="#48a88e"/><rect x="655.80" y="412.56" width="3.3" height="3.07" fill="#48a88e"/><rect x="660.37" y="396.68" width="1.35" height="29.18" fill="#48a88e"/><rect x="659.39" y="408.97" width="3.3" height="3.58" fill="#48a88e"/><rect x="663.96" y="380.30" width="1.35" height="36.86" fill="#48a88e"/><rect x="662.98" y="384.40" width="3.3" height="24.58" fill="#48a88e"/><rect x="667.55" y="380.81" width="1.35" height="39.42" fill="#e2545a"/><rect x="666.58" y="384.40" width="3.3" height="35.33" fill="#e2545a"/><rect x="671.14" y="406.92" width="1.35" height="37.38" fill="#e2545a"/><rect x="670.17" y="419.72" width="3.3" height="12.80" fill="#e2545a"/><rect x="674.74" y="402.83" width="1.35" height="30.72" fill="#48a88e"/><rect x="673.76" y="405.90" width="3.3" height="26.62" fill="#48a88e"/><rect x="678.33" y="384.91" width="1.35" height="33.28" fill="#48a88e"/><rect x="677.36" y="387.47" width="3.3" height="18.43" fill="#48a88e"/><rect x="681.92" y="372.62" width="1.35" height="19.46" fill="#48a88e"/><rect x="680.95" y="377.23" width="3.3" height="10.24" fill="#48a88e"/><rect x="685.52" y="377.23" width="1.35" height="29.70" fill="#e2545a"/><rect x="684.54" y="377.23" width="3.3" height="8.70" fill="#e2545a"/><rect x="689.11" y="382.86" width="1.35" height="28.67" fill="#e2545a"/><rect x="688.13" y="385.93" width="3.3" height="5.12" fill="#e2545a"/><rect x="692.70" y="357.77" width="1.35" height="36.86" fill="#48a88e"/><rect x="691.73" y="359.82" width="3.3" height="31.23" fill="#48a88e"/><rect x="696.30" y="357.26" width="1.35" height="22.53" fill="#e2545a"/><rect x="695.32" y="359.82" width="3.3" height="5.12" fill="#e2545a"/><rect x="699.89" y="336.27" width="1.35" height="31.23" fill="#48a88e"/><rect x="698.91" y="361.36" width="3.3" height="3.58" fill="#48a88e"/><rect x="703.48" y="295.82" width="1.35" height="75.26" fill="#48a88e"/><rect x="702.51" y="301.45" width="3.3" height="59.90" fill="#48a88e"/><rect x="707.07" y="234.38" width="1.35" height="69.12" fill="#48a88e"/><rect x="706.10" y="249.23" width="3.3" height="52.22" fill="#48a88e"/><rect x="710.67" y="203.15" width="1.35" height="52.22" fill="#48a88e"/><rect x="709.69" y="211.85" width="3.3" height="37.38" fill="#48a88e"/><rect x="714.26" y="207.76" width="1.35" height="40.96" fill="#e2545a"/><rect x="713.28" y="211.85" width="3.3" height="3.07" fill="#e2545a"/><rect x="717.85" y="180.62" width="1.35" height="69.12" fill="#48a88e"/><rect x="716.88" y="195.47" width="3.3" height="19.46" fill="#48a88e"/><rect x="721.45" y="174.48" width="1.35" height="56.32" fill="#48a88e"/><rect x="720.47" y="178.57" width="3.3" height="16.90" fill="#48a88e"/><rect x="725.04" y="158.60" width="1.35" height="82.43" fill="#e2545a"/><rect x="724.06" y="178.57" width="3.3" height="47.10" fill="#e2545a"/><rect x="728.63" y="201.61" width="1.35" height="40.45" fill="#e2545a"/><rect x="727.66" y="225.68" width="3.3" height="8.19" fill="#e2545a"/><rect x="732.23" y="206.47" width="1.35" height="39.10" fill="#48a88e"/><rect x="731.25" y="209.67" width="3.3" height="24.39" fill="#48a88e"/><rect x="735.82" y="187.28" width="1.35" height="58.88" fill="#e2545a"/><rect x="734.84" y="209.80" width="3.3" height="19.46" fill="#e2545a"/><rect x="739.41" y="168.33" width="1.35" height="87.55" fill="#48a88e"/><rect x="738.44" y="194.44" width="3.3" height="34.82" fill="#48a88e"/><rect x="743.00" y="152.97" width="1.35" height="50.69" fill="#48a88e"/><rect x="742.03" y="187.79" width="3.3" height="6.66" fill="#48a88e"/><rect x="746.60" y="167.82" width="1.35" height="52.74" fill="#e2545a"/><rect x="745.62" y="187.79" width="3.3" height="26.62" fill="#e2545a"/><rect x="750.19" y="188.30" width="1.35" height="57.86" fill="#e2545a"/><rect x="749.22" y="214.41" width="3.3" height="4.61" fill="#e2545a"/><rect x="753.78" y="207.24" width="1.35" height="24.06" fill="#e2545a"/><rect x="752.81" y="219.02" width="3.3" height="2.05" fill="#e2545a"/><rect x="757.38" y="203.66" width="1.35" height="31.23" fill="#48a88e"/><rect x="756.40" y="220.04" width="3.3" height="1.02" fill="#48a88e"/><rect x="760.97" y="219.02" width="1.35" height="93.70" fill="#e2545a"/><rect x="759.99" y="220.04" width="3.3" height="10.75" fill="#e2545a"/><rect x="764.56" y="226.70" width="1.35" height="76.80" fill="#e2545a"/><rect x="763.59" y="230.80" width="3.3" height="69.12" fill="#e2545a"/><rect x="768.15" y="276.36" width="1.35" height="44.54" fill="#48a88e"/><rect x="767.18" y="290.19" width="3.3" height="9.73" fill="#48a88e"/><rect x="771.75" y="265.10" width="1.35" height="31.74" fill="#48a88e"/><rect x="770.77" y="272.27" width="3.3" height="17.92" fill="#48a88e"/><rect x="775.34" y="258.44" width="1.35" height="36.86" fill="#e2545a"/><rect x="774.37" y="272.27" width="3.3" height="18.94" fill="#e2545a"/><rect x="778.93" y="259.98" width="1.35" height="58.37" fill="#e2545a"/><rect x="777.96" y="291.21" width="3.3" height="20.48" fill="#e2545a"/><rect x="782.53" y="283.53" width="1.35" height="48.64" fill="#48a88e"/><rect x="781.55" y="284.56" width="3.3" height="27.14" fill="#48a88e"/><rect x="786.12" y="270.73" width="1.35" height="16.90" fill="#48a88e"/><rect x="785.14" y="276.88" width="3.3" height="7.68" fill="#48a88e"/><rect x="789.71" y="222.60" width="1.35" height="54.78" fill="#48a88e"/><rect x="788.74" y="232.84" width="3.3" height="44.03" fill="#48a88e"/><rect x="793.31" y="211.85" width="1.35" height="26.11" fill="#48a88e"/><rect x="792.33" y="230.28" width="3.3" height="2.56" fill="#48a88e"/><rect x="796.90" y="179.08" width="1.35" height="55.81" fill="#48a88e"/><rect x="795.92" y="179.60" width="3.3" height="50.69" fill="#48a88e"/><rect x="800.49" y="167.31" width="1.35" height="29.70" fill="#48a88e"/><rect x="799.52" y="168.33" width="3.3" height="11.26" fill="#48a88e"/><rect x="804.09" y="140.17" width="1.35" height="50.69" fill="#48a88e"/><rect x="803.11" y="155.02" width="3.3" height="13.31" fill="#48a88e"/><rect x="807.68" y="147.85" width="1.35" height="37.38" fill="#e2545a"/><rect x="806.70" y="155.02" width="3.3" height="16.90" fill="#e2545a"/><rect x="811.27" y="166.28" width="1.35" height="32.77" fill="#e2545a"/><rect x="810.30" y="171.92" width="3.3" height="1.00" fill="#e2545a"/><rect x="814.86" y="147.85" width="1.35" height="39.94" fill="#e2545a"/><rect x="813.89" y="172.43" width="3.3" height="1.00" fill="#e2545a"/><rect x="818.46" y="155.53" width="1.35" height="54.78" fill="#e2545a"/><rect x="817.48" y="172.94" width="3.3" height="23.55" fill="#e2545a"/><rect x="822.05" y="157.58" width="1.35" height="45.57" fill="#48a88e"/><rect x="821.08" y="158.60" width="3.3" height="37.89" fill="#48a88e"/><rect x="825.64" y="147.34" width="1.35" height="27.65" fill="#48a88e"/><rect x="824.67" y="154.00" width="3.3" height="4.61" fill="#48a88e"/><rect x="829.24" y="101.26" width="1.35" height="61.95" fill="#48a88e"/><rect x="828.26" y="103.31" width="3.3" height="50.69" fill="#48a88e"/><rect x="832.83" y="82.32" width="1.35" height="37.89" fill="#e2545a"/><rect x="831.85" y="103.31" width="3.3" height="9.22" fill="#e2545a"/><rect x="836.42" y="96.65" width="1.35" height="29.70" fill="#48a88e"/><rect x="835.45" y="101.77" width="3.3" height="10.75" fill="#48a88e"/><rect x="840.01" y="99.72" width="1.35" height="39.94" fill="#e2545a"/><rect x="839.04" y="101.77" width="3.3" height="26.62" fill="#e2545a"/><rect x="843.61" y="102.28" width="1.35" height="33.79" fill="#48a88e"/><rect x="842.63" y="102.28" width="3.3" height="26.11" fill="#48a88e"/><rect x="847.20" y="75.66" width="1.35" height="39.42" fill="#e2545a"/><rect x="846.23" y="102.28" width="3.3" height="9.73" fill="#e2545a"/><rect x="850.79" y="110.99" width="1.35" height="30.21" fill="#e2545a"/><rect x="849.82" y="112.01" width="3.3" height="19.97" fill="#e2545a"/><rect x="854.39" y="131.47" width="1.35" height="32.26" fill="#e2545a"/><rect x="853.41" y="131.98" width="3.3" height="27.14" fill="#e2545a"/><rect x="857.98" y="133.00" width="1.35" height="30.72" fill="#48a88e"/><rect x="857.00" y="144.27" width="3.3" height="14.85" fill="#48a88e"/><rect x="861.57" y="116.11" width="1.35" height="30.72" fill="#48a88e"/><rect x="860.60" y="122.76" width="3.3" height="21.50" fill="#48a88e"/><rect x="865.17" y="109.45" width="1.35" height="15.87" fill="#48a88e"/><rect x="864.19" y="122.76" width="3.3" height="1.00" fill="#48a88e"/><rect x="868.76" y="121.74" width="1.35" height="35.33" fill="#e2545a"/><rect x="867.78" y="122.76" width="3.3" height="16.38" fill="#e2545a"/><rect x="872.35" y="73.10" width="1.35" height="68.61" fill="#48a88e"/><rect x="871.38" y="80.78" width="3.3" height="58.37" fill="#48a88e"/><rect x="875.95" y="66.96" width="1.35" height="84.99" fill="#e2545a"/><rect x="874.97" y="80.78" width="3.3" height="43.52" fill="#e2545a"/><rect x="879.54" y="119.69" width="1.35" height="63.49" fill="#e2545a"/><rect x="878.56" y="124.30" width="3.3" height="32.77" fill="#e2545a"/><rect x="883.13" y="124.81" width="1.35" height="41.98" fill="#48a88e"/><rect x="882.16" y="126.86" width="3.3" height="30.21" fill="#48a88e"/><rect x="886.72" y="117.13" width="1.35" height="51.71" fill="#e2545a"/><rect x="885.75" y="126.86" width="3.3" height="20.48" fill="#e2545a"/><rect x="890.32" y="146.32" width="1.35" height="60.42" fill="#e2545a"/><rect x="889.34" y="147.34" width="3.3" height="29.70" fill="#e2545a"/><rect x="893.91" y="162.70" width="1.35" height="75.26" fill="#e2545a"/><rect x="892.94" y="177.04" width="3.3" height="55.30" fill="#e2545a"/><rect x="897.50" y="223.63" width="1.35" height="12.29" fill="#48a88e"/><rect x="896.53" y="225.16" width="3.3" height="7.17" fill="#48a88e"/><line x1="732.9" y1="0" x2="732.9" y2="690" stroke="#a8a8a8" stroke-width="1.4" stroke-dasharray="6.6 7.094" stroke-dashoffset="2.6"/><line x1="0" y1="213.3" x2="936" y2="213.3" stroke="#b4b4b4" stroke-width="1.4" stroke-dasharray="6.6 7.094" stroke-dashoffset="3.9"/><polygon points="987.40,710.20 982.40,718.86 972.40,718.86 967.40,710.20 972.40,701.54 982.40,701.54" fill="none" stroke="#c8c8c8" stroke-width="1.6" stroke-linejoin="round"/><circle cx="977.4" cy="710.2" r="3.4" fill="none" stroke="#c8c8c8" stroke-width="1.5"/></svg>
<div id="logo"></div>
<div id="title">Bitcoin / U.S. Dollar · 1W · Bitstamp</div>
<div id="dot"><i></i></div>
<div class="oh w" style="left:412.2px">O</div><div class="oh g" style="left:423.8px">93,564</div>
<div class="oh w" style="left:488.8px">H</div><div class="oh g" style="left:501.6px">98,951</div>
<div class="oh w" style="left:564.2px">L</div><div class="oh g" style="left:573.8px">91,315</div>
<div class="oh w" style="left:636.3px">C</div><div class="oh g" style="left:649.3px">98,327</div>
<div class="oh g" style="left:713px">+4,770</div><div class="oh g" style="left:772.8px;transform:scaleX(0.85)">(+5.10%)</div>
<div id="note">Bitcoin weekly candles.</div>
<div class="pl" style="top:652.2px">10,000</div><div class="pl" style="top:601.0px">20,000</div><div class="pl" style="top:549.8px">30,000</div><div class="pl" style="top:498.6px">40,000</div><div class="pl" style="top:447.4px">50,000</div><div class="pl" style="top:396.2px">60,000</div><div class="pl" style="top:345.0px">70,000</div><div class="pl" style="top:293.8px">80,000</div><div class="pl" style="top:242.6px">90,000</div><div class="pl" style="top:191.4px">100,000</div><div class="pl" style="top:140.2px">110,000</div><div class="pl" style="top:89.0px">120,000</div><div class="pl" style="top:37.8px">130,000</div>
<div id="lpl">95,240</div>
<div id="chl">97,812</div>
<div id="taxis"><div class="tl" style="left:39.0px">Jul</div><div class="tl b" style="left:132.4px">2022</div><div class="tl" style="left:225.8px">Jul</div><div class="tl b" style="left:319.2px">2023</div><div class="tl" style="left:412.6px">Jul</div><div class="tl b" style="left:506.1px">2024</div><div class="tl" style="left:599.5px">Jul</div><div class="tl" style="left:789.9px">Jul</div><div class="tl b" style="left:883.3px">2026</div></div>
<div id="ctl">30 Dec '24</div>
<div style="position:absolute;left:0;top:703.5px;width:2.2px;height:11.5px;background:#d0d0d0"></div>
<div id="bot"></div>
</div></body></html>
